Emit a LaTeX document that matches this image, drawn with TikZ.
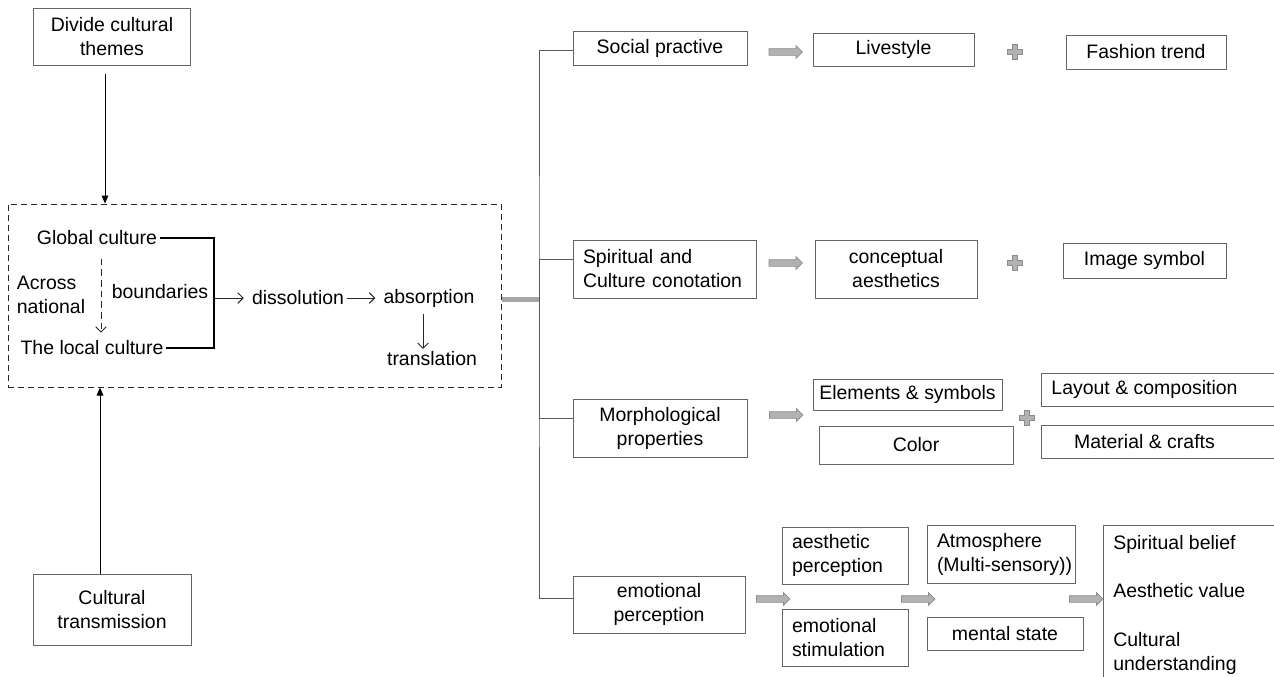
\documentclass[tikz,border=0pt]{standalone}
\usepackage{fontspec}
\setmainfont{Liberation Sans}
\usepackage{tikz}
\usetikzlibrary{arrows.meta, shapes.arrows}

\begin{document}
\begin{tikzpicture}[x=0.75pt, y=-0.75pt, >=Stealth,
    every node/.style={font=\fontsize{14.6}{18}\selectfont},
    boxsize/.style 2 args={minimum width=#1*0.75pt, minimum height=#2*0.75pt},
    box/.style={draw=black!60, line width=0.75pt, fill=white, align=center, inner sep=0pt},
    leftbox/.style={box, align=left, inner xsep=7.5pt, text width=#1*0.75pt-15pt},
    word/.style={inner sep=2pt},
    solidarr/.style={line width=0.75pt, -{Triangle[length=6pt, width=5pt]}},
    thinarr/.style={draw=black!85, line width=0.7pt, -{Straight Barb[length=4pt, width=8pt]}},
    treeline/.style={draw=black!65, line width=0.75pt},
    bigarrow/.style={single arrow, draw=black!45, fill=black!30, line width=0.5pt,
        inner xsep=0pt, inner ysep=2.25pt, minimum height=25pt,
        single arrow head extend=2.25pt, single arrow head indent=0pt}]

    \useasboundingbox (0,0) rectangle (1274,676);

    % Left part
    \node[box, boxsize={157}{57}] (divide) at (112,36.5) {Divide cultural\\themes};
    \node[box, boxsize={158}{71}] (transmission) at (112,609.5) {Cultural\\transmission};
    \node[draw=black!85, line width=0.75pt, dash pattern=on 4.5pt off 3pt,
        boxsize={493}{183}, inner sep=0pt] (frame) at (254.5,295.5) {};

    \node[word] (global) at (97,238) {Global culture};
    \node[word] (local) at (92,348) {The local culture};
    \node[word, align=left] (across) at (51,295) {Across\\national};
    \node[word] (boundaries) at (160,292) {boundaries};
    \coordinate (join) at (214,298);
    \node[word] (dissolution) at (298,298) {dissolution};
    \node[word] (absorption) at (429,298) {absorption};
    \node[word] (translation) at (432,359) {translation};

    \coordinate (topx) at ([xshift=-5.25pt]divide.south);
    \draw[solidarr, shorten <=6pt] (topx) -- (topx |- frame.north);
    \coordinate (botx) at ([xshift=-9pt]transmission.north);
    \draw[solidarr] (botx) -- (botx |- frame.south);

    \draw[line width=1.1pt] (global.east) -| (join) |- (local.east);
    \coordinate (dashtop) at ([xshift=3pt, yshift=-8pt]global.south);
    \draw[thinarr, dash pattern=on 5pt off 3pt, shorten >=4pt] (dashtop) -- (dashtop |- local.north);
    \draw[thinarr, shorten >=4pt] (join) -- (dissolution);
    \draw[thinarr, shorten >=4pt] (dissolution) -- (absorption);
    \coordinate (abx) at ([xshift=-4.5pt]absorption.south);
    \draw[thinarr, shorten <=3pt] (abx) -- (abx |- translation.north);

    % Tree
    \coordinate (trunk) at (539,299.5);
    \draw[draw=black!35, line width=3.75pt] ([yshift=-3pt]frame.east) -- (trunk);

    \node[box, boxsize={174}{34}] (social) at (660,48) {Social practive};
    \node[leftbox=183, boxsize={183}{58}] (spiritual) at (664.5,269) {Spiritual and\\Culture conotation};
    \node[box, boxsize={174}{58}] (morph) at (660,428) {Morphological\\properties};
    \node[box, boxsize={172}{57}] (emotional) at (659,604.5) {emotional\\perception};

    \draw[treeline] ([yshift=-1.5pt]social.west) -| (trunk) |- ([yshift=4.5pt]emotional.west);
    \draw[treeline] ([yshift=7.5pt]spiritual.west) -| (trunk);
    \draw[treeline] ([yshift=7pt]morph.west) -| (trunk);

    % Right part
    \node[box, boxsize={161}{33}] (livestyle) at (893.5,49.5) {Livestyle};
    \node[box, boxsize={160}{34}] (fashion) at (1146,52) {Fashion trend};
    \node[box, boxsize={162}{58}] (concept) at (896,269) {conceptual\\aesthetics};
    \node[box, boxsize={163}{35}] (image) at (1144.5,260.5) {Image symbol};
    \node[box, boxsize={189}{31}] (elements) at (907.5,394.5) {Elements \& symbols};
    \node[box, boxsize={194}{38}] (color) at (916,445) {Color};
    \node[box, boxsize={260}{33}, anchor=west] (layout) at (1041,389.5) {Layout \& composition\hspace*{40.5pt}};
    \node[box, boxsize={260}{33}, anchor=west] (material) at (1041,441.5) {Material \& crafts\hspace*{40.5pt}};

    \node[leftbox=126, boxsize={126}{57}] (aesthetic) at (845,555.5) {aesthetic\\perception};
    \node[leftbox=126, boxsize={126}{57}] (stimulation) at (845,637.5) {emotional\\stimulation};
    \node[leftbox=148, boxsize={148}{58}] (atmosphere) at (1001,554) {Atmosphere\\\mbox{(Multi-sensory))}};
    \node[box, boxsize={156}{33}] (mental) at (1005,633.5) {mental state};
    \node[box, boxsize={200}{180}, anchor=north west] (values) at (1103,525) {};
    \node[inner sep=0pt, align=left, anchor=north west] (valuetext) at ([xshift=7.5pt, yshift=-7.25pt]values.north west)
        {Spiritual belief\\[18.5pt]Aesthetic value\\[18.5pt]Cultural\\understanding};

    % Gray arrows
    \node[bigarrow] (go1) at (784,52) {};
    \node[bigarrow] (go2) at (784,263) {};
    \node[bigarrow] (go3) at (784.5,415) {};
    \node[bigarrow] (go4) at (771.5,599) {};
    \node[bigarrow] (go5) at (916.5,599) {};
    \node[bigarrow] (go6) at (1084.5,599) {};

    % Plus signs
    \foreach \px/\py in {1015/52, 1015/263, 1027/418} {
        \draw[draw=black!45, fill=black!30, line width=0.4pt]
            (\px-2.5,\py-7.5) -- (\px+2.5,\py-7.5) -- (\px+2.5,\py-2.5) -- (\px+7.5,\py-2.5)
            -- (\px+7.5,\py+2.5) -- (\px+2.5,\py+2.5) -- (\px+2.5,\py+7.5) -- (\px-2.5,\py+7.5)
            -- (\px-2.5,\py+2.5) -- (\px-7.5,\py+2.5) -- (\px-7.5,\py-2.5) -- (\px-2.5,\py-2.5) -- cycle;
    }
\end{tikzpicture}
\end{document}
